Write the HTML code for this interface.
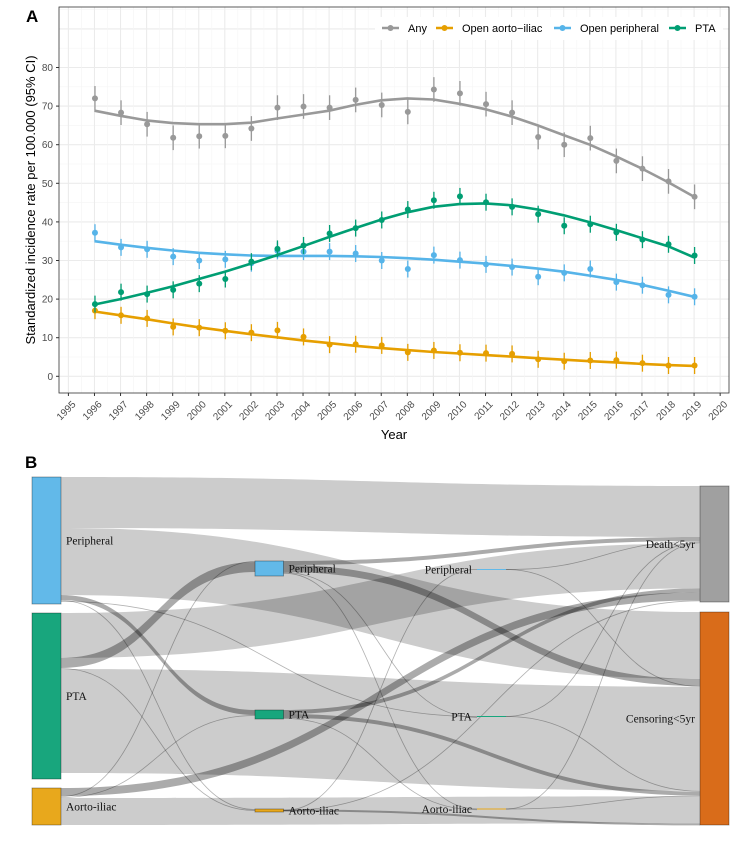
<!DOCTYPE html>
<html><head><meta charset="utf-8">
<style>
html,body{margin:0;padding:0;background:#fff;width:756px;height:855px;overflow:hidden}
svg{display:block}
text{font-family:"Liberation Sans",sans-serif}
.serif{font-family:"Liberation Serif",serif}
</style></head>
<body>
<svg id="fig" width="756" height="855" viewBox="0 0 756 855">
  <g id="panelA"></g>
  <g id="panelB"></g>
</svg>
<script>
// ---------- Panel A data ----------
const years = [1996,1997,1998,1999,2000,2001,2002,2003,2004,2005,2006,2007,2008,2009,2010,2011,2012,2013,2014,2015,2016,2017,2018,2019];
const xTickYears = [1995,1996,1997,1998,1999,2000,2001,2002,2003,2004,2005,2006,2007,2008,2009,2010,2011,2012,2013,2014,2015,2016,2017,2018,2019,2020];
const yTicks = [0,10,20,30,40,50,60,70,80];
const anyPts = [72,68.3,65.3,61.8,62.2,62.3,64.2,69.6,69.9,69.6,71.6,70.3,68.5,74.3,73.3,70.5,68.3,62,60,61.7,55.8,53.8,50.5,46.5];
const anyFit = [68.8,67.5,66.3,65.6,65.3,65.3,65.7,66.8,67.8,68.8,70.3,71.5,72,71.7,70.6,69.2,67.3,65,62.5,60,57,53.8,50.3,46.5];
const aortoPts = [17,15.8,15,12.8,12.6,11.8,11.3,11.9,10.2,8.2,8.3,8,6.2,6.7,6.1,6,5.8,4.4,3.9,4.1,4.2,3.4,2.8,2.8];
const aortoFit = [16.8,15.8,14.8,13.7,12.7,11.8,10.9,10.1,9.3,8.6,7.9,7.3,6.8,6.3,5.9,5.5,5.1,4.7,4.3,3.9,3.6,3.2,2.9,2.7];
const periphPts = [37.2,33.4,32.9,31,30,30.3,29.3,32.5,32.3,32.3,31.8,30,27.8,31.4,30.1,29,28.3,25.8,26.8,27.8,24.4,23.6,21.1,20.6];
const periphFit = [35,34.1,33.3,32.6,32,31.6,31.3,31.2,31.2,31.2,31.1,30.9,30.6,30.2,29.7,29.2,28.6,27.9,27.1,26.1,25,23.7,22.2,20.6];
const ptaPts = [18.7,21.8,21.3,22.4,24,25.2,29.7,33,33.9,37,38.4,40.5,43.2,45.6,46.6,45.1,43.9,42,39,39.4,37.3,35.4,34.2,31.3];
const ptaFit = [18.6,20,21.6,23.3,25.2,27.1,29.2,31.4,33.7,36.1,38.4,40.6,42.5,43.9,44.6,44.8,44.3,43.2,41.7,39.9,37.9,35.8,33.7,30.8];
const anyCI = 3.2, otherCI = 2.2;
const seriesNames = ["Any","Open aorto\u2212iliac","Open peripheral","PTA"];

// ---------- Panel B data ----------
const sankeyNodes = [
 {id:"L_per",label:"Peripheral",col:0,top:477,h:127,color:"#62B9E9"},
 {id:"L_pta",label:"PTA",col:0,top:613,h:166,color:"#18A67D"},
 {id:"L_ao",label:"Aorto-iliac",col:0,top:788,h:37,color:"#E8A81C"},
 {id:"M_per",label:"Peripheral",col:1,top:561,h:15,color:"#62B9E9"},
 {id:"M_pta",label:"PTA",col:1,top:710,h:9,color:"#18A67D"},
 {id:"M_ao",label:"Aorto-iliac",col:1,top:809,h:3,color:"#E8A81C"},
 {id:"T_per",label:"Peripheral",col:2,top:569,h:1,color:"#62B9E9"},
 {id:"T_pta",label:"PTA",col:2,top:716,h:1,color:"#18A67D"},
 {id:"T_ao",label:"Aorto-iliac",col:2,top:808.5,h:1,color:"#E8A81C"},
 {id:"R_death",label:"Death<5yr",col:3,top:486,h:116,color:"#A0A0A0"},
 {id:"R_cens",label:"Censoring<5yr",col:3,top:612,h:213,color:"#D96C1A"}
];
// s, t, value, target order, dark
const sankeyLinks = [
 ["L_per","R_death",51,0,0],["L_per","R_cens",67,0,0],["L_per","M_pta",5,0,1],["L_per","M_ao",1,0,0],["L_per","T_pta",1,0,0],
 ["L_pta","R_death",45,5,0],["L_pta","M_per",10,1,1],["L_pta","M_ao",1,1,0],["L_pta","R_cens",104,3,0],
 ["L_ao","R_death",8,7,1],["L_ao","M_per",1,0,0],["L_ao","M_pta",1,1,0],["L_ao","R_cens",27,8,0],
 ["M_per","R_death",4,1,1],["M_per","R_cens",7,1,1],["M_per","T_pta",0.8,0,0],["M_per","T_ao",0.8,0,0],
 ["M_pta","R_death",4,6,1],["M_pta","R_cens",4,5,1],["M_pta","T_ao",0.8,1,0],
 ["M_ao","T_per",0.8,0,0],["M_ao","R_cens",2,9,1],["M_ao","R_death",0.8,8,0],
 ["T_per","R_death",0.8,2,0],["T_per","R_cens",0.8,2,0],
 ["T_pta","R_death",0.8,3,0],["T_pta","R_cens",0.8,4,0],
 ["T_ao","R_death",0.8,4,0],["T_ao","R_cens",0.8,7,0]
];

const NS="http://www.w3.org/2000/svg";
function mk(parent,tag,attrs,txt){const e=document.createElementNS(NS,tag);for(const k in attrs)e.setAttribute(k,attrs[k]);if(txt!==undefined)e.textContent=txt;parent.appendChild(e);return e;}

// ---------- Panel A ----------
const A=document.getElementById('panelA');
const PL=59,PR=729,PT=7,PB=393;
const xS=y=>68.4+(y-1995)*26.07;
const yS=v=>376.3-v*3.86;
let t=mk(A,'text',{x:26,y:22,'font-size':17,'font-weight':'bold'},'A');

const grid=mk(A,'g',{});

for(let v=-5;v<=95;v+=5){const yy=yS(v);if(yy<PT||yy>PB)continue;mk(grid,'line',{x1:PL,x2:PR,y1:yy,y2:yy,stroke:v%10===0?'#ebebeb':'#f5f5f5','stroke-width':v%10===0?1.1:0.6});}
for(let y=1994.5;y<=2020.5;y+=0.5){const xx=xS(y);if(xx<PL||xx>PR)continue;mk(grid,'line',{x1:xx,x2:xx,y1:PT,y2:PB,stroke:y%1===0?'#ebebeb':'#f5f5f5','stroke-width':y%1===0?1.1:0.6});}
const border=mk(A,'rect',{x:PL,y:PT,width:PR-PL,height:PB-PT,fill:'none',stroke:'#333','stroke-width':0.8});

const yax=mk(A,'g',{});
yTicks.forEach(v=>{mk(yax,'line',{x1:PL-3,x2:PL,y1:yS(v),y2:yS(v),stroke:'#333'});const l=mk(yax,'text',{x:PL-6,y:yS(v)+3.5,'font-size':10,fill:'#4d4d4d','text-anchor':'end'},String(v));});
const xax=mk(A,'g',{});
xTickYears.forEach(y=>{const xx=xS(y);mk(xax,'line',{x1:xx,x2:xx,y1:PB,y2:PB+3,stroke:'#333'});const l=mk(xax,'text',{x:xx+3,y:PB+7,'font-size':10,fill:'#4d4d4d','text-anchor':'end',transform:`rotate(-45 ${xx+3} ${PB+7})`,dy:'0.7em'},String(y));});
t=mk(A,'text',{x:394,y:439,'font-size':13,'text-anchor':'middle'},'Year');
t=mk(A,'text',{x:35,y:200,'font-size':13,'text-anchor':'middle',transform:'rotate(-90 35 200)'},'Standardized incidence rate per 100.000 (95% CI)');

function series(name,pts,fit,ci,color){
  const g=mk(A,'g',{});
  pts.forEach((v,i)=>{const xx=xS(years[i])+0.5;
    const e=mk(g,'line',{x1:xx,x2:xx,y1:yS(v+ci),y2:yS(v-ci),stroke:color,'stroke-width':1.3});
    const c=mk(g,'circle',{cx:xx,cy:yS(v),r:3,fill:color});});
  let d='';fit.forEach((v,i)=>{d+=(i?'L':'M')+xS(years[i]).toFixed(1)+','+yS(v).toFixed(1);});
  const p=mk(g,'path',{d:d,fill:'none',stroke:color,'stroke-width':2.6,'stroke-linejoin':'round'});
}
series('series-any',anyPts,anyFit,anyCI,'#999999');
series('series-open-aorto-iliac',aortoPts,aortoFit,otherCI,'#E69F00');
series('series-open-peripheral',periphPts,periphFit,otherCI,'#56B4E9');
series('series-pta',ptaPts,ptaFit,otherCI,'#009E73');

const leg=mk(A,'g',{});
mk(leg,'rect',{x:375,y:17,width:348,height:23,fill:'#fff'});
const legColors=['#999999','#E69F00','#56B4E9','#009E73'];const legX=[382,436,554,669];
seriesNames.forEach((n,i)=>{const g=mk(leg,'g',{});
  mk(g,'line',{x1:legX[i],x2:legX[i]+17,y1:28,y2:28,stroke:legColors[i],'stroke-width':2.6});
  mk(g,'circle',{cx:legX[i]+8.5,cy:28,r:3,fill:legColors[i]});
  mk(g,'text',{x:legX[i]+26,y:32,'font-size':11},n);});

// ---------- Panel B ----------
const B=document.getElementById('panelB');
t=mk(B,'text',{x:25,y:468,'font-size':17,'font-weight':'bold'},'B');
const colX=[[32,61],[255,283.5],[477,506],[700,729]];
const nodeMap={};sankeyNodes.forEach(n=>{nodeMap[n.id]=n;n.sOff=n.top;});
const linkG=mk(B,'g',{});
const byT={};sankeyLinks.forEach((l,i)=>{(byT[l[1]]=byT[l[1]]||[]).push(i);});
const tPos={};
for(const k in byT){const n=nodeMap[k];let o=n.top;
  byT[k].sort((a,b)=>sankeyLinks[a][3]-sankeyLinks[b][3]||a-b).forEach(i=>{tPos[i]=o;o+=sankeyLinks[i][2];});}
sankeyLinks.forEach((l,i)=>{
  const s=nodeMap[l[0]],tg=nodeMap[l[1]],v=l[2];
  const x0=colX[s.col][1],x1=colX[tg.col][0],xm=(x0+x1)/2;
  let sy=s.sOff;s.sOff+=v;
  let ty=tPos[i];
  if(s.h<=3){sy=s.top+s.h/2-v/2;}
  let el;
  if(v<1.5){
    el=mk(linkG,'path',{d:`M${x0},${sy+v/2}C${xm},${sy+v/2} ${xm},${ty+v/2} ${x1},${ty+v/2}`,fill:'none',stroke:'rgba(0,0,0,0.3)','stroke-width':0.8});
  }else{
    el=mk(linkG,'path',{d:`M${x0},${sy}C${xm},${sy} ${xm},${ty} ${x1},${ty}L${x1},${ty+v}C${xm},${ty+v} ${xm},${sy+v} ${x0},${sy+v}Z`,fill:l[4]?'rgba(0,0,0,0.33)':'rgba(0,0,0,0.2)'});
  }
  
  
});
const nodeG=mk(B,'g',{});
sankeyNodes.forEach(n=>{
  const [a,b]=colX[n.col];
  const r=mk(nodeG,'rect',{x:a,y:n.top,width:b-a,height:Math.max(n.h,1),fill:n.color,stroke:n.col===2?'none':'rgba(0,0,0,0.4)','stroke-width':0.8});
  
  
  let lx,anchor;
  if(n.col===0||n.col===1){lx=b+5;anchor='start';}else{lx=a-5;anchor='end';}
  const ly=n.top+n.h/2+4;
  const tx=mk(nodeG,'text',{x:lx,y:ly,'font-size':11.5,'text-anchor':anchor,class:'serif',fill:'#111'},n.label);
  
  
});
</script>
</body></html>
